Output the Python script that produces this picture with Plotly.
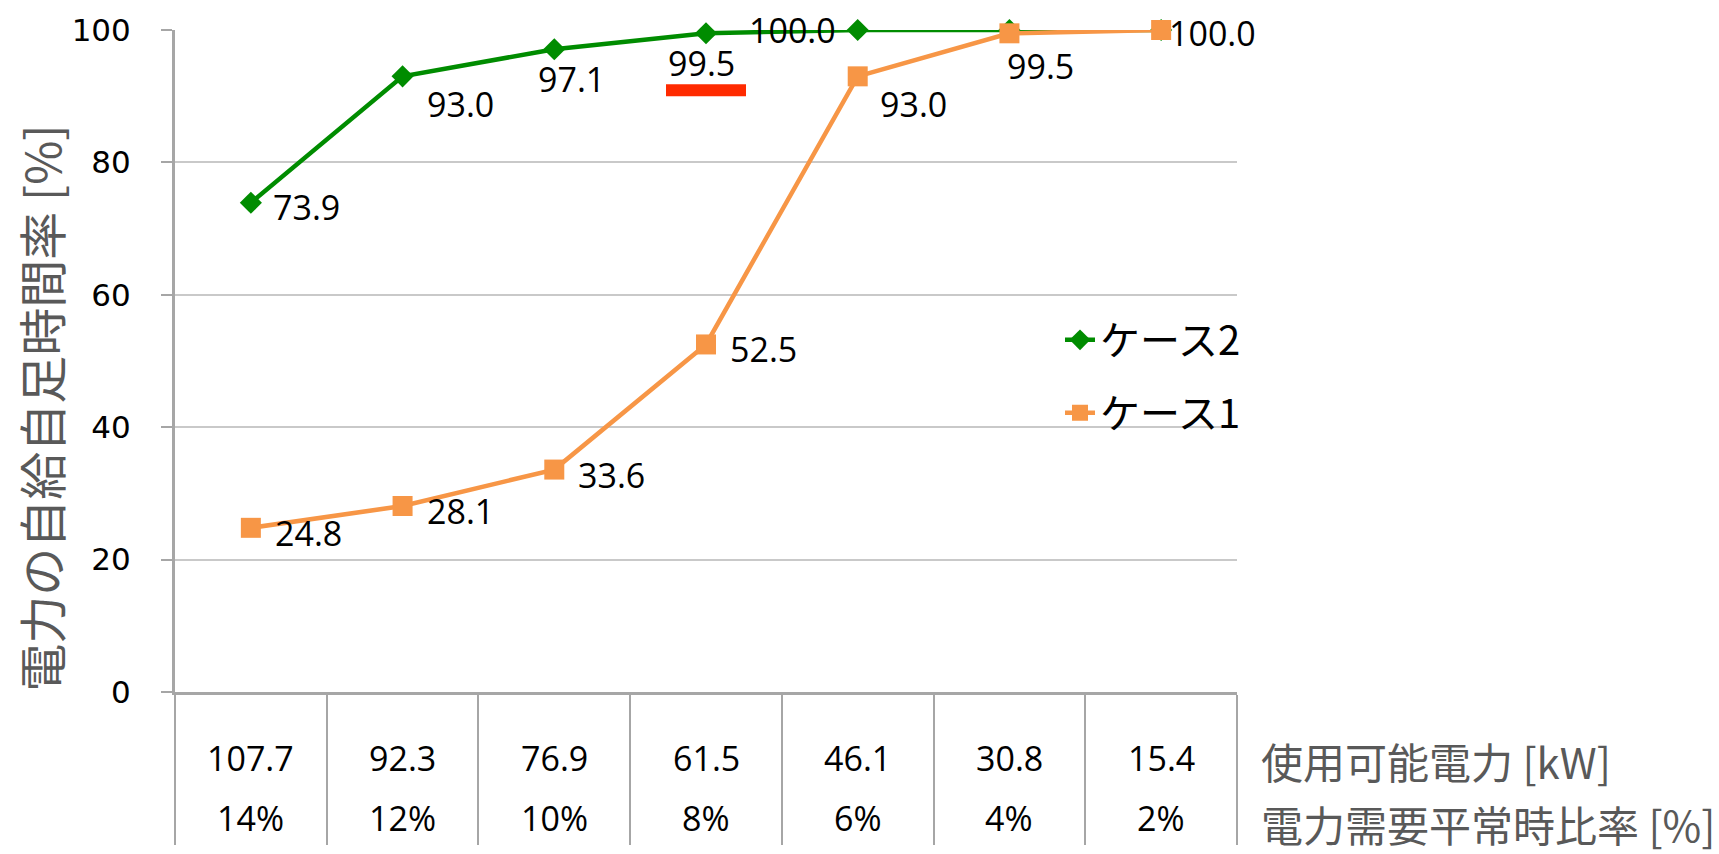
import plotly.graph_objects as go

# ---- data ----
power_kw = ["107.7", "92.3", "76.9", "61.5", "46.1", "30.8", "15.4"]
ratio_pct = ["14%", "12%", "10%", "8%", "6%", "4%", "2%"]
case2 = [73.9, 93.0, 97.1, 99.5, 100.0, 100.0, 100.0]
case1 = [24.8, 28.1, 33.6, 52.5, 93.0, 99.5, 100.0]
case2_labels = ["73.9", "93.0", "97.1", "99.5", "100.0", None, None]
case1_labels = ["24.8", "28.1", "33.6", "52.5", "93.0", "99.5", "100.0"]
row_titles = ["使用可能電力 [kW]", "電力需要平常時比率 [%]"]
y_title = "電力の自給自足時間率 [%]"
series_names = ["ケース2", "ケース1"]

# ---- style ----
GREEN = "#008C00"
ORANGE = "#F79646"
AXIS = "#A6A6A6"
GRID = "#C9C9C9"
GREYTXT = "#595959"
W, H = 1719, 854
L, R, T, B = 175, 482, 27, 142
PW = W - L - R
PH = H - T - B

xpos = list(range(len(power_kw)))  # category index positions

# label offsets (pixels) for each point
case2_off = [(20, -4, "left"), (22, -28, "left"), (-18, -30, "left"), (-40, -30, "left"),
             (-20, 0, "right"), (0, 0, "left"), (0, 0, "left")]
case1_off = [(22, -5, "left"), (22, -5, "left"), (22, -5, "left"), (22, -5, "left"),
             (20, -28, "left"), (-4, -33, "left"), (6, -3, "left")]

fig = go.Figure()
fig.add_trace(go.Scatter(
    x=xpos, y=case2, name=series_names[0], mode="lines+markers",
    line=dict(color=GREEN, width=4.5),
    marker=dict(symbol="diamond", size=17, color=GREEN),
    cliponaxis=False, legendgroup="g2"))
fig.add_trace(go.Scatter(
    x=xpos, y=case1, name=series_names[1], mode="lines+markers",
    line=dict(color=ORANGE, width=4.5),
    marker=dict(symbol="square", size=20, color=ORANGE),
    cliponaxis=False, legendgroup="g1"))

ann = []
label_font = dict(family="Open Sans", size=34, color="black")
for ys, labs, offs in [(case2, case2_labels, case2_off), (case1, case1_labels, case1_off)]:
    for xv, yv, lab, (dx, dy, anc) in zip(xpos, ys, labs, offs):
        if lab is None:
            continue
        ann.append(dict(x=xv, y=yv, xref="x", yref="y", text=lab, showarrow=False,
                        xanchor=anc, yanchor="middle", xshift=dx, yshift=dy,
                        font=label_font))

bottom_font = dict(family="Open Sans", size=34, color="black")
for xv, kv, pv in zip(xpos, power_kw, ratio_pct):
    ann.append(dict(x=xv, y=-68 / PH, xref="x", yref="paper", text=kv, showarrow=False,
                    xanchor="center", yanchor="middle", font=bottom_font))
    ann.append(dict(x=xv, y=-130 / PH, xref="x", yref="paper", text=pv, showarrow=False,
                    xanchor="center", yanchor="middle", font=bottom_font))

row_font = dict(family="Noto Sans CJK JP", size=42, color=GREYTXT)
ann.append(dict(x=1 + 22 / PW, y=-71 / PH, xref="paper", yref="paper", text=row_titles[0],
                showarrow=False, xanchor="left", yanchor="middle", font=row_font))
ann.append(dict(x=1 + 22 / PW, y=-136 / PH, xref="paper", yref="paper", text=row_titles[1],
                showarrow=False, xanchor="left", yanchor="middle", font=row_font))

ann.append(dict(x=-135 / PW, y=(712 - 419) / PH, xref="paper", yref="paper", text=y_title,
                showarrow=False, textangle=-90, xanchor="center", yanchor="middle",
                font=dict(family="Noto Sans CJK JP", size=48, color=GREYTXT)))

fig.update_layout(
    width=W, height=H,
    margin=dict(l=L, r=R, t=T, b=B, pad=0),
    paper_bgcolor="white", plot_bgcolor="white",
    showlegend=True,
    legend=dict(x=(1060 - L) / PW, y=(712 - 314) / PH, xanchor="left", yanchor="top",
                font=dict(family="Noto Sans CJK JP", size=40, color="black"),
                bgcolor="rgba(0,0,0,0)", tracegroupgap=18, itemwidth=30),
    annotations=ann,
    shapes=[dict(type="rect", xref="x", yref="y", xsizemode="pixel", ysizemode="pixel",
                 xanchor=xpos[3], yanchor=case2[3], x0=-40, x1=40, y0=-63, y1=-51,
                 fillcolor="#FF2A00", line=dict(width=0))],
    xaxis=dict(range=[-0.5, 6.5], tickvals=[i - 0.5 for i in xpos] + [len(xpos) - 0.5],
               showticklabels=False,
               ticks="outside", ticklen=150, tickwidth=2,
               tickcolor=AXIS, showgrid=False, showline=True, linecolor=AXIS,
               linewidth=3, zeroline=False, fixedrange=True),
    yaxis=dict(range=[0, 100], tickvals=[0, 20, 40, 60, 80, 100],
               ticks="outside", ticklen=11, tickwidth=2, tickcolor=AXIS,
               showgrid=True, gridcolor=GRID, gridwidth=2,
               showline=True, linecolor=AXIS, linewidth=3, zeroline=False,
               ticklabelstandoff=24,
               tickfont=dict(family="DejaVu Sans", size=31, color="black")),
)

fig.write_html("out.html")
